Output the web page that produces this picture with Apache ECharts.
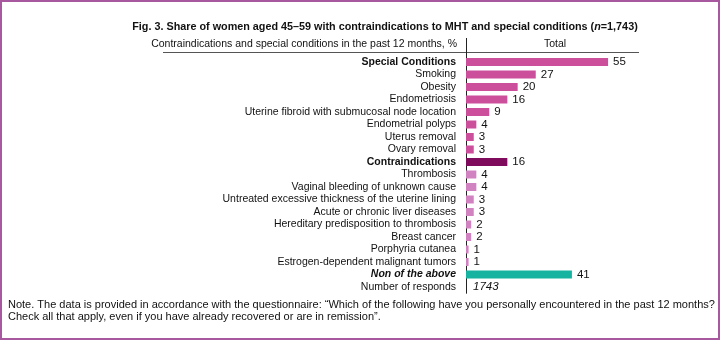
<!DOCTYPE html>
<html>
<head>
<meta charset="utf-8">
<script src="https://cdn.jsdelivr.net/npm/echarts@6/dist/echarts.min.js"></script>
<style>
html,body{margin:0;padding:0;background:#fff;}
#chart{position:absolute;left:0;top:0;width:720px;height:340px;}
</style>
</head>
<body>
<div id="chart"></div>
<script>
const titleText = 'Fig. 3. Share of women aged 45\u201359 with contraindications to MHT and special conditions (';
const headerLeft = 'Contraindications and special conditions in the past 12 months, %';
const headerRight = 'Total';
const categories = [
  'Special Conditions','Smoking','Obesity','Endometriosis',
  'Uterine fibroid with submucosal node location','Endometrial polyps',
  'Uterus removal','Ovary removal','Contraindications','Thrombosis',
  'Vaginal bleeding of unknown cause','Untreated excessive thickness of the uterine lining',
  'Acute or chronic liver diseases','Hereditary predisposition to thrombosis',
  'Breast cancer','Porphyria cutanea','Estrogen-dependent malignant tumors',
  'Non of the above','Number of responds'
];
const values = [55,27,20,16,9,4,3,3,16,4,4,3,3,2,2,1,1,41,null];
const groups = ['head','special','special','special','special','special','special','special',
  'contraHead','contra','contra','contra','contra','contra','contra','contra','contra','none','count'];
const respondents = 1743;
const noteLines = [
  'Note. The data is provided in accordance with the questionnaire: \u201cWhich of the following have you personally encountered in the past 12 months?',
  'Check all that apply, even if you have already recovered or are in remission\u201d.'
];

const FONT = "'Liberation Sans',Arial,sans-serif";
const LS = 10.5;
const colorMap = {head:'#cc4f9c', special:'#cc4f9c', contraHead:'#7e0b5c', contra:'#d083c0', none:'#16b3a0', count:'rgba(0,0,0,0)'};

const data = values.map((v,i)=>{
  if (groups[i]==='count') {
    return {value:0, itemStyle:{color:'rgba(0,0,0,0)'}, label:{show:true, formatter:String(respondents), fontStyle:'italic', distance:7}};
  }
  return {value:v, itemStyle:{color:colorMap[groups[i]]}};
});

const chart = echarts.init(document.getElementById('chart'), null, {renderer:'canvas'});
chart.setOption({
  animation:false,
  backgroundColor:'#fff',
  grid:{left:466, right:99, top:55.75, bottom:46.75, containLabel:false},
  xAxis:{type:'value', min:0, max:60, show:false},
  yAxis:{
    type:'category', data:categories, inverse:true,
    axisLine:{show:true, lineStyle:{color:'#222', width:1}},
    axisTick:{show:false},
    axisLabel:{
      interval:0, margin:10, color:'#111', fontFamily:FONT, fontSize:LS,
      formatter:(v,i)=>{
        const g = groups[i];
        if (g==='head'||g==='contraHead') return '{b|'+v+'}';
        if (g==='none') return '{bi|'+v+'}';
        return v;
      },
      rich:{
        b:{fontWeight:'bold', fontFamily:FONT, fontSize:LS, color:'#111'},
        bi:{fontWeight:'bold', fontStyle:'italic', fontFamily:FONT, fontSize:LS, color:'#111'}
      }
    }
  },
  series:[{
    type:'bar', data:data, barWidth:8,
    label:{show:true, position:'right', distance:5, color:'#111', fontFamily:FONT, fontSize:11.5}
  }],
  graphic:[
    {type:'text', x:385, y:27, style:{
      text:'{t|'+titleText+'}{ti|n}{t|=1,743)}', align:'center', verticalAlign:'middle',
      rich:{t:{fontWeight:'bold', fontFamily:FONT, fontSize:10.8, fill:'#111'},
            ti:{fontWeight:'bold', fontStyle:'italic', fontFamily:FONT, fontSize:10.8, fill:'#111'}}
    }},
    {type:'text', x:457, y:44, style:{text:headerLeft, align:'right', verticalAlign:'middle', font:'10.5px '+FONT, fill:'#111'}},
    {type:'text', x:555, y:44, style:{text:headerRight, align:'center', verticalAlign:'middle', font:'10.5px '+FONT, fill:'#111'}},
    {type:'line', shape:{x1:163, y1:52.5, x2:639, y2:52.5}, style:{stroke:'#555', lineWidth:1}},
    {type:'line', shape:{x1:466.5, y1:38, x2:466.5, y2:56}, style:{stroke:'#222', lineWidth:1}},
    {type:'text', x:8, y:305, style:{text:noteLines[0], verticalAlign:'middle', font:'11px '+FONT, fill:'#111'}},
    {type:'text', x:8, y:317, style:{text:noteLines[1], verticalAlign:'middle', font:'11px '+FONT, fill:'#111'}},
    {type:'rect', z:100, shape:{x:1, y:1, width:718, height:338}, style:{fill:'none', stroke:'#a8589f', lineWidth:2}}
  ]
});
</script>
</body>
</html>
